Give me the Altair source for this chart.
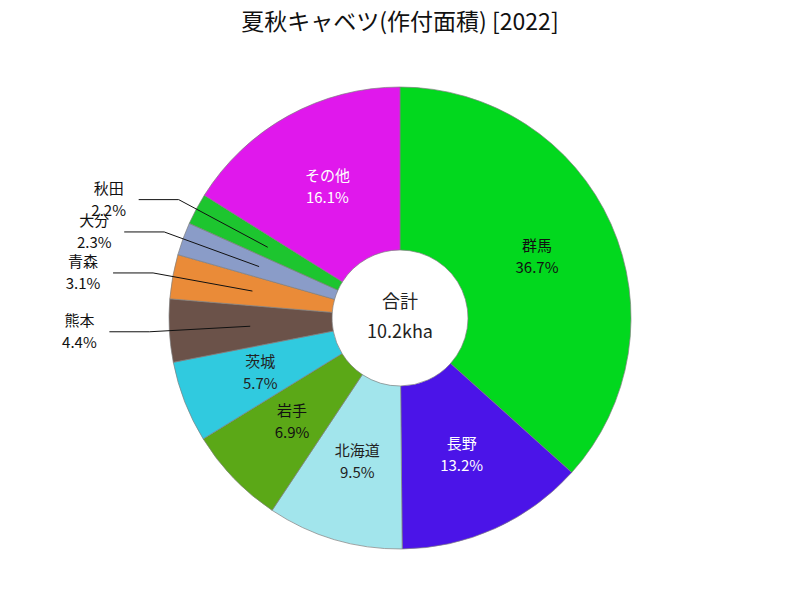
import math
import altair as alt
import pandas as pd

# ---- data ----
names = ["群馬", "長野", "北海道", "岩手", "茨城", "熊本", "青森", "大分", "秋田", "その他"]
shares = [36.7, 13.2, 9.5, 6.9, 5.7, 4.4, 3.1, 2.3, 2.2, 16.1]
colors = ["#02d81e", "#4b14e8", "#a2e5ec", "#5ba817", "#30cadf",
          "#6b5249", "#ea8b38", "#8a9cc8", "#1dc52f", "#e018ec"]
text_colors = ["#111111", "#ffffff", "#222222", "#111111", "#222222",
               "#111111", "#111111", "#111111", "#111111", "#ffffff"]
title_text = "夏秋キャベツ(作付面積) [2022]"
center_title = "合計"
center_value = "10.2kha"

# ---- layout constants ----
CX, CY = 400, 318
R_OUT, R_IN = 231, 68
R_LABEL = 150
R_ELBOW = 251
THRESH = 5.0
FONT = "Noto Sans CJK JP"

df = pd.DataFrame({"idx": range(len(names)), "name": names, "value": shares,
                   "tcolor": text_colors})
df["pct"] = df["value"].map(lambda v: f"{v:.1f}%")
df["label_in"] = [f"{n}\n{p}" if v >= THRESH else "" for n, p, v in zip(df["name"], df["pct"], df["value"])]

# external labels (small slices): derived from cumulative shares
total = sum(shares)
cum = 0.0
rows = []
for n, v, p in zip(df["name"], df["value"], df["pct"]):
    mid = (cum + v / 2) / total * 2 * math.pi
    cum += v
    if v < THRESH:
        xs, ys = CX + R_LABEL * math.sin(mid), CY - R_LABEL * math.cos(mid)
        xe, ye = CX + R_ELBOW * math.sin(mid), CY - R_ELBOW * math.cos(mid)
        side = -1 if math.sin(mid) < 0 else 1
        xend = xe + side * 40
        rows.append({"name": n, "xs": xs, "ys": ys, "xe": xe, "ye": ye,
                     "xend": xend, "xt": xend + side * 30, "txt": f"{n}\n{p}"})
ext = pd.DataFrame(rows)

base = alt.Chart(df)
arcs = base.mark_arc(innerRadius=R_IN, outerRadius=R_OUT, stroke="#808080", strokeWidth=0.7).encode(
    theta=alt.Theta("value:Q", stack=True),
    color=alt.Color("name:N", scale=alt.Scale(domain=names, range=colors), legend=None),
    order=alt.Order("idx:Q"),
    x=alt.value(CX), y=alt.value(CY),
)
inner_text = base.mark_text(radius=R_LABEL, font=FONT, fontSize=15, lineBreak="\n", lineHeight=22,
                            baseline="middle", align="center", dy=-11).encode(
    theta=alt.Theta("value:Q", stack=True),
    order=alt.Order("idx:Q"),
    detail="name:N",
    text="label_in:N",
    color=alt.Color("tcolor:N", scale=None),
    x=alt.value(CX), y=alt.value(CY),
)

ec = alt.Chart(ext)
lead1 = ec.mark_rule(color="#111111", strokeWidth=1).encode(
    x=alt.X("xs:Q", scale=None), y=alt.Y("ys:Q", scale=None),
    x2="xe:Q", y2="ye:Q")
lead2 = ec.mark_rule(color="#111111", strokeWidth=1).encode(
    x=alt.X("xe:Q", scale=None), y=alt.Y("ye:Q", scale=None),
    x2="xend:Q", y2="ye:Q")
ext_text = ec.mark_text(font=FONT, fontSize=15, lineBreak="\n", lineHeight=22,
                        baseline="middle", align="center", color="#111111", dy=-11).encode(
    x=alt.X("xt:Q", scale=None), y=alt.Y("ye:Q", scale=None), text="txt:N")

center = alt.Chart(pd.DataFrame({"t": [f"{center_title}\n{center_value}"]})).mark_text(
    font=FONT, fontSize=18, lineBreak="\n", lineHeight=30, baseline="middle", align="center",
    color="#222222", dy=-15).encode(text="t:N", x=alt.value(CX), y=alt.value(CY))

title = alt.Chart(pd.DataFrame({"t": [title_text]})).mark_text(
    font=FONT, fontSize=23, baseline="middle", align="center", color="#111111").encode(
    text="t:N", x=alt.value(400), y=alt.value(23))

chart = alt.layer(arcs, inner_text, lead1, lead2, ext_text, center, title).properties(
    width=800, height=600, padding=0, autosize=alt.AutoSizeParams(type="none"),
    background="white",
).configure_view(stroke=None)

chart.save("out.html", embed_options={"renderer": "svg", "actions": False})
